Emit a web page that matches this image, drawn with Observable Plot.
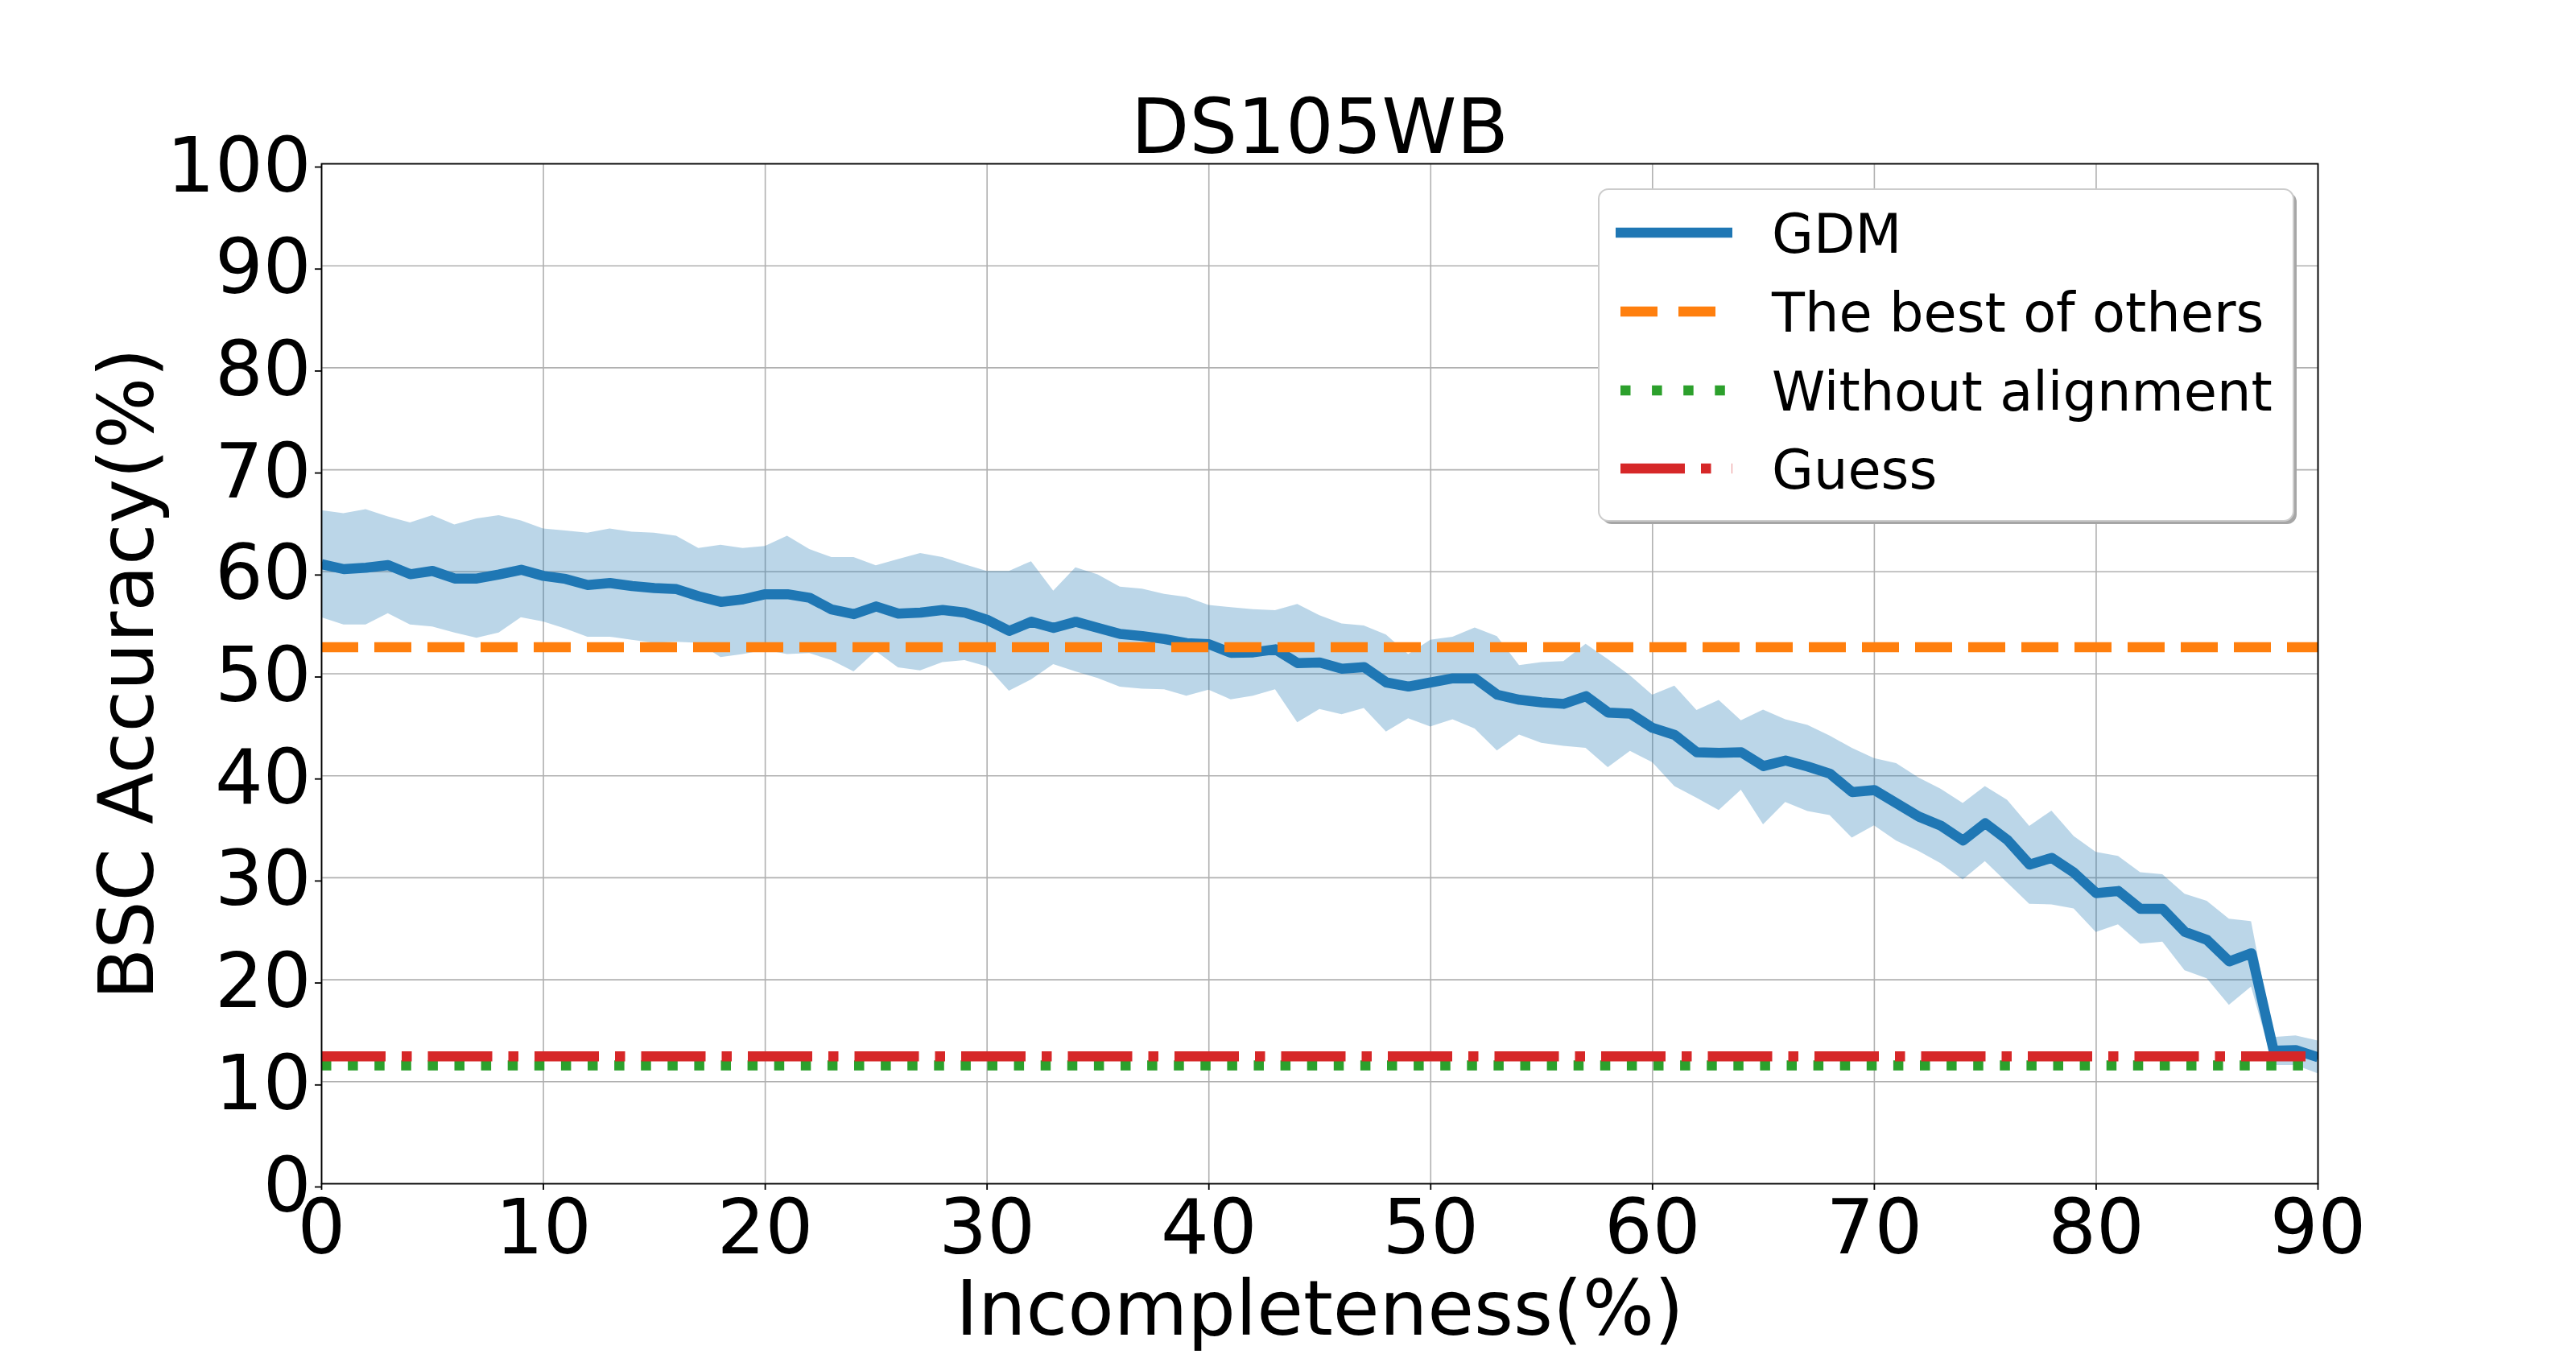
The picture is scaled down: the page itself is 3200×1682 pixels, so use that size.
<!DOCTYPE html>
<html>
<head>
<meta charset="utf-8">
<script src="https://cdn.jsdelivr.net/npm/d3@7"></script>
<script src="https://cdn.jsdelivr.net/npm/@observablehq/plot@0.6"></script>
<style>
  html, body { margin: 0; padding: 0; background: white; }
  #wrap { position: relative; width: 3200px; height: 1682px; overflow: hidden; }
  #legend { position: absolute; left: 0; top: 0; pointer-events: none; }
</style>
</head>
<body>
<div id="wrap"><div id="chart"></div></div>
<script>
// ---- data ----
const title = "DS105WB";
const xLabel = "Incompleteness(%)";
const yLabel = "BSC Accuracy(%)";
const xTicks = [0, 10, 20, 30, 40, 50, 60, 70, 80, 90];
const yTicks = [0, 10, 20, 30, 40, 50, 60, 70, 80, 90, 100];

const incompleteness = [0,1,2,3,4,5,6,7,8,9,10,11,12,13,14,15,16,17,18,19,20,21,22,23,24,25,26,27,28,29,30,31,32,33,34,35,36,37,38,39,40,41,42,43,44,45,46,47,48,49,50,51,52,53,54,55,56,57,58,59,60,61,62,63,64,65,66,67,68,69,70,71,72,73,74,75,76,77,78,79,80,81,82,83,84,85,86,87,88,89,90];
const gdmMean = [60.74,60.26,60.4,60.66,59.76,60.08,59.34,59.34,59.74,60.2,59.6,59.3,58.7,58.9,58.6,58.4,58.3,57.6,57.05,57.3,57.8,57.8,57.45,56.3,55.85,56.6,55.9,56.0,56.25,56.0,55.3,54.2,55.1,54.5,55.1,54.5,53.9,53.7,53.4,53.0,52.9,52.05,52.1,52.4,51.05,51.1,50.5,50.65,49.15,48.75,49.15,49.55,49.55,47.95,47.45,47.2,47.05,47.8,46.2,46.1,44.7,44.0,42.3,42.25,42.3,40.95,41.5,40.9,40.2,38.4,38.6,37.3,36.0,35.1,33.65,35.35,33.7,31.3,31.95,30.5,28.5,28.7,26.95,26.95,24.7,23.9,21.8,22.6,13.05,13.1,12.4];
const gdmUpper = [66.0,65.7,66.1,65.4,64.8,65.5,64.6,65.2,65.5,65.0,64.2,64.0,63.8,64.2,63.9,63.8,63.5,62.3,62.6,62.3,62.5,63.5,62.2,61.4,61.4,60.6,61.2,61.8,61.4,60.7,60.05,60.05,61.0,58.1,60.4,59.7,58.5,58.3,57.8,57.5,56.7,56.5,56.3,56.2,56.8,55.7,54.9,54.7,53.8,51.9,53.3,53.6,54.5,53.65,50.8,51.1,51.2,52.9,51.4,49.8,47.9,48.8,46.4,47.4,45.4,46.45,45.5,44.95,43.9,42.7,41.7,41.2,39.8,38.7,37.3,38.95,37.6,35.05,36.55,34.05,32.5,32.1,30.5,30.3,28.4,27.7,25.95,25.7,14.35,14.5,14.0];
const gdmLower = [55.5,54.8,54.8,55.9,54.8,54.6,54.0,53.5,54.0,55.5,55.1,54.4,53.6,53.6,53.3,53.0,53.1,53.0,51.6,51.9,52.3,51.9,52.0,51.3,50.2,52.2,50.6,50.3,51.1,51.3,50.7,48.3,49.4,50.9,50.2,49.55,48.7,48.5,48.45,47.8,48.4,47.45,47.8,48.45,45.2,46.5,46.0,46.6,44.3,45.6,44.8,45.5,44.6,42.45,44.0,43.2,42.9,42.7,40.8,42.4,41.3,38.95,37.8,36.6,38.6,35.2,37.4,36.5,36.1,33.9,35.1,33.6,32.6,31.4,29.8,31.6,29.5,27.4,27.35,26.95,24.65,25.4,23.5,23.7,20.9,20.1,17.5,19.3,11.6,11.6,10.8];

const bestOfOthers = [52.6];
const withoutAlignment = [11.6];
const guess = [12.5];

const seriesNames = ["GDM", "The best of others", "Without alignment", "Guess"];
const seriesColors = ["#1f77b4", "#ff7f0e", "#2ca02c", "#d62728"];
const seriesDash = [null, "46,20", "12.5,20.6", "80,20,12.5,20"];

// ---- table ----
const rows = incompleteness.map((x, i) => ({x, mean: gdmMean[i], upper: gdmUpper[i], lower: gdmLower[i]}));

const LW = 12.5;
const FONT = "DejaVu Sans";
const FS = 94;

const chart = Plot.plot({
  width: 3200,
  height: 1682,
  marginLeft: 399,
  marginRight: 321,
  marginTop: 203,
  marginBottom: 212,
  style: {fontFamily: FONT, fontSize: FS + "px", color: "black", background: "white", overflow: "visible"},
  x: {domain: [0, 90], ticks: xTicks},
  y: {domain: [0, 100], ticks: yTicks},
  marks: [
    Plot.gridX(xTicks, {stroke: "#b0b0b0", strokeOpacity: 1, strokeWidth: 1.6}),
    Plot.gridY(yTicks, {stroke: "#b0b0b0", strokeOpacity: 1, strokeWidth: 1.6}),
    Plot.areaY(rows, {x: "x", y1: "lower", y2: "upper", fill: seriesColors[0], fillOpacity: 0.3, clip: true}),
    Plot.line(rows, {x: "x", y: "mean", stroke: seriesColors[0], strokeWidth: LW, strokeLinejoin: "round", strokeLinecap: "butt", clip: true}),
    Plot.ruleY(bestOfOthers, {stroke: seriesColors[1], strokeWidth: LW, strokeDasharray: seriesDash[1]}),
    Plot.ruleY(withoutAlignment, {stroke: seriesColors[2], strokeWidth: LW, strokeDasharray: seriesDash[2]}),
    Plot.ruleY(guess, {stroke: seriesColors[3], strokeWidth: LW, strokeDasharray: seriesDash[3]}),
    Plot.frame({stroke: "black", strokeWidth: 1.8}),
    Plot.axisX({ticks: xTicks, tickSize: 8, tickPadding: 12, fontSize: FS, label: null, stroke: "black", strokeWidth: 1.8}),
    Plot.axisY({ticks: yTicks, tickSize: 8, tickPadding: 5, fontSize: FS, label: null, stroke: "black", strokeWidth: 1.8, dy: 4}),
    Plot.text([title], {frameAnchor: "top", textAnchor: "middle", lineAnchor: "bottom", dy: -14, fontSize: FS, fill: "black"}),
    Plot.text([xLabel], {frameAnchor: "bottom", textAnchor: "middle", lineAnchor: "bottom", dy: 187, fontSize: FS, fill: "black"}),
    Plot.text([yLabel], {frameAnchor: "left", textAnchor: "middle", rotate: -90, lineAnchor: "bottom", dx: -210, fontSize: FS, fill: "black"})
  ]
});
document.getElementById("chart").appendChild(chart);

// ---- legend (overlay inside the plot area, like matplotlib's) ----
const box = {x: 1986, y: 235, w: 863, h: 412};
const legend = d3.select("#wrap").append("svg")
  .attr("id", "legend")
  .attr("width", 3200).attr("height", 1682)
  .style("font-family", FONT);
legend.append("rect")
  .attr("x", box.x + 4).attr("y", box.y + 4).attr("width", box.w).attr("height", box.h)
  .attr("rx", 12).attr("fill", "#a6a6a6");
legend.append("rect")
  .attr("x", box.x).attr("y", box.y).attr("width", box.w).attr("height", box.h)
  .attr("rx", 12).attr("fill", "white").attr("stroke", "#cccccc").attr("stroke-width", 2);
const rowY = [289, 387, 485, 582];
seriesNames.forEach((name, i) => {
  const g = legend.append("g");
  g.append("line")
    .attr("x1", 2007).attr("x2", 2152).attr("y1", rowY[i]).attr("y2", rowY[i])
    .attr("stroke", seriesColors[i]).attr("stroke-width", LW)
    .attr("stroke-dasharray", seriesDash[i] ? "0,6," + seriesDash[i] : null);
  g.append("text")
    .attr("x", 2201).attr("y", rowY[i] + 25)
    .attr("font-size", 67).attr("fill", "black")
    .text(name);
});
</script>
</body>
</html>
